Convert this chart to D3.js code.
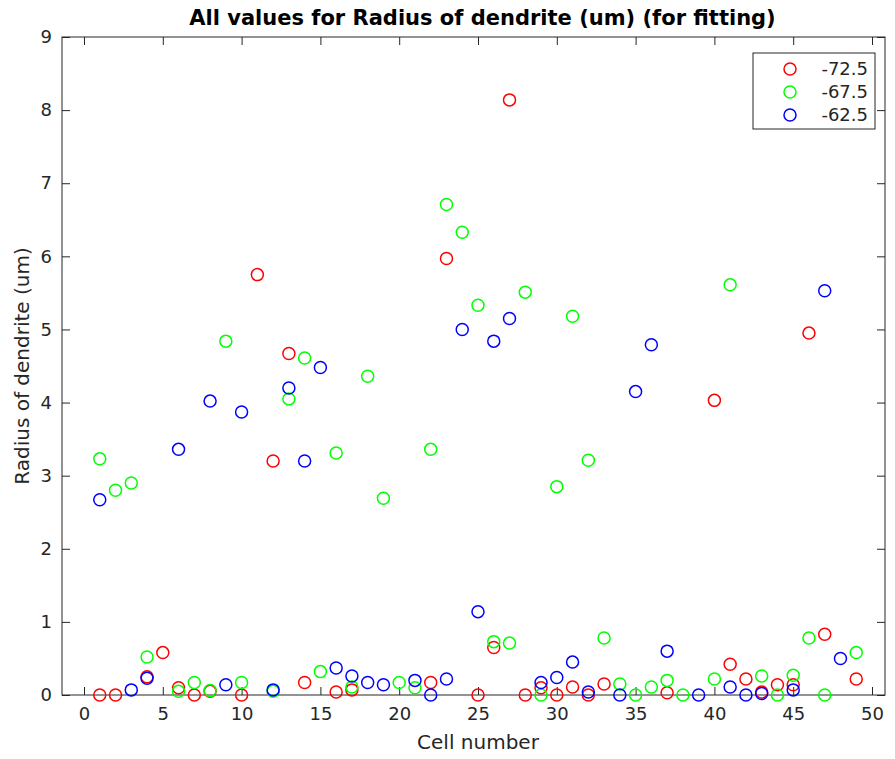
<!DOCTYPE html>
<html>
<head>
<meta charset="utf-8">
<script src="https://cdn.jsdelivr.net/npm/d3@7"></script>
<style>
  body { margin: 0; background: #fff; }
  text { font-family: "DejaVu Sans", sans-serif; fill: #262626; }
</style>
</head>
<body>
<div id="chart"></div>
<script>
// data: [cell, radius]
const seriesNames = ["-72.5", "-67.5", "-62.5"];
const seriesColors = ["#ff0000", "#00ff00", "#0000ff"];

const red = [
  [1, 0.0], [2, 0.0], [4, 0.25], [5, 0.58], [6, 0.1], [7, 0.0], [8, 0.05],
  [10, 0.0], [11, 5.75], [12, 3.2], [13, 4.67], [14, 0.17], [16, 0.04],
  [17, 0.07], [22, 0.17], [23, 5.97], [25, 0.0], [26, 0.65], [27, 8.14],
  [28, 0.0], [29, 0.1], [30, 0.0], [31, 0.11], [32, 0.0], [33, 0.15],
  [37, 0.03], [40, 4.03], [41, 0.42], [42, 0.22], [43, 0.04], [44, 0.14],
  [45, 0.14], [46, 4.95], [47, 0.83], [49, 0.22]
];
const green = [
  [1, 3.23], [2, 2.8], [3, 2.9], [4, 0.52], [6, 0.05], [7, 0.17], [8, 0.06],
  [9, 4.84], [10, 0.17], [12, 0.05], [13, 4.05], [14, 4.61], [15, 0.32],
  [16, 3.31], [17, 0.11], [18, 4.36], [19, 2.69], [20, 0.17], [21, 0.1],
  [22, 3.36], [23, 6.71], [24, 6.33], [25, 5.33], [26, 0.73], [27, 0.71],
  [28, 5.51], [29, 0.0], [30, 2.85], [31, 5.18], [32, 3.21], [33, 0.78],
  [34, 0.15], [35, 0.0], [36, 0.11], [37, 0.2], [38, 0.0], [40, 0.22],
  [41, 5.61], [43, 0.26], [44, 0.0], [45, 0.27], [46, 0.78], [47, 0.0],
  [49, 0.58]
];
const blue = [
  [1, 2.67], [3, 0.07], [4, 0.23], [6, 3.36], [8, 4.02], [9, 0.14],
  [10, 3.87], [12, 0.07], [13, 4.2], [14, 3.2], [15, 4.48], [16, 0.37],
  [17, 0.26], [18, 0.17], [19, 0.14], [21, 0.2], [22, 0.0], [23, 0.22],
  [24, 5.0], [25, 1.14], [26, 4.84], [27, 5.15], [29, 0.17], [30, 0.24],
  [31, 0.45], [32, 0.04], [34, 0.0], [35, 4.15], [36, 4.79], [37, 0.6],
  [39, 0.0], [41, 0.11], [42, 0.0], [43, 0.02], [45, 0.07], [47, 5.53],
  [48, 0.5]
];
const xTicks = [0, 5, 10, 15, 20, 25, 30, 35, 40, 45, 50];
const yTicks = [0, 1, 2, 3, 4, 5, 6, 7, 8, 9];

const width = 895, height = 759;
const box = { left: 62, right: 885, top: 37, bottom: 695 };

const svg = d3.select("#chart").append("svg")
  .attr("width", width)
  .attr("height", height);

const x = d3.scaleLinear().domain([0, 50]).range([84, 872]);
const y = d3.scaleLinear().domain([0, 9]).range([box.bottom, box.top]);

// frame
svg.append("rect")
  .attr("x", box.left).attr("y", box.top)
  .attr("width", box.right - box.left).attr("height", box.bottom - box.top)
  .attr("fill", "none").attr("stroke", "#262626").attr("stroke-width", 1);

// axes, ticks pointing inward like matlab
const tickLen = 8;
const g = svg.append("g");
g.append("g").attr("transform", `translate(0,${box.bottom})`)
  .call(d3.axisBottom(x).tickValues(xTicks).tickSizeInner(-tickLen).tickSizeOuter(0).tickPadding(12));
g.append("g").attr("transform", `translate(0,${box.top})`)
  .call(d3.axisTop(x).tickValues(xTicks).tickSizeInner(-tickLen).tickSizeOuter(0).tickFormat(""));
g.append("g").attr("transform", `translate(${box.left},0)`)
  .call(d3.axisLeft(y).tickValues(yTicks).tickSizeInner(-tickLen).tickSizeOuter(0).tickPadding(10));
g.append("g").attr("transform", `translate(${box.right},0)`)
  .call(d3.axisRight(y).tickValues(yTicks).tickSizeInner(-tickLen).tickSizeOuter(0).tickFormat(""));
g.selectAll(".domain").remove();
g.selectAll(".tick line").attr("stroke", "#262626");
g.selectAll(".tick text")
  .style("font-family", "DejaVu Sans, sans-serif")
  .style("font-size", "18px")
  .attr("fill", "#262626");

// points
[red, green, blue].forEach((data, i) => {
  svg.append("g").selectAll("circle")
    .data(data)
    .join("circle")
    .attr("cx", d => x(d[0]))
    .attr("cy", d => y(d[1]))
    .attr("r", 6)
    .attr("fill", "none")
    .attr("stroke", seriesColors[i])
    .attr("stroke-width", 1.5);
});

// title and labels
svg.append("text")
  .attr("x", (box.left + box.right) / 2 + 9).attr("y", 25)
  .attr("text-anchor", "middle")
  .style("font-size", "21px").style("font-weight", "bold")
  .style("fill", "#000")
  .text("All values for Radius of dendrite (um) (for fitting)");

svg.append("text")
  .attr("x", x(25)).attr("y", 749)
  .attr("text-anchor", "middle")
  .style("font-size", "20px")
  .text("Cell number");

svg.append("text")
  .attr("transform", `translate(29,${(box.top + box.bottom) / 2}) rotate(-90)`)
  .attr("text-anchor", "middle")
  .style("font-size", "20px")
  .text("Radius of dendrite (um)");

// legend
const legend = svg.append("g");
legend.append("rect")
  .attr("x", 753).attr("y", 53).attr("width", 122).attr("height", 76)
  .attr("fill", "#fff").attr("stroke", "#262626").attr("stroke-width", 1);
seriesNames.forEach((name, i) => {
  const ly = 69 + i * 23;
  legend.append("circle")
    .attr("cx", 790).attr("cy", ly).attr("r", 6)
    .attr("fill", "none").attr("stroke", seriesColors[i]).attr("stroke-width", 1.5);
  legend.append("text")
    .attr("x", 868).attr("y", ly + 6)
    .attr("text-anchor", "end")
    .style("font-size", "18px")
    .text(name);
});
</script>
</body>
</html>
